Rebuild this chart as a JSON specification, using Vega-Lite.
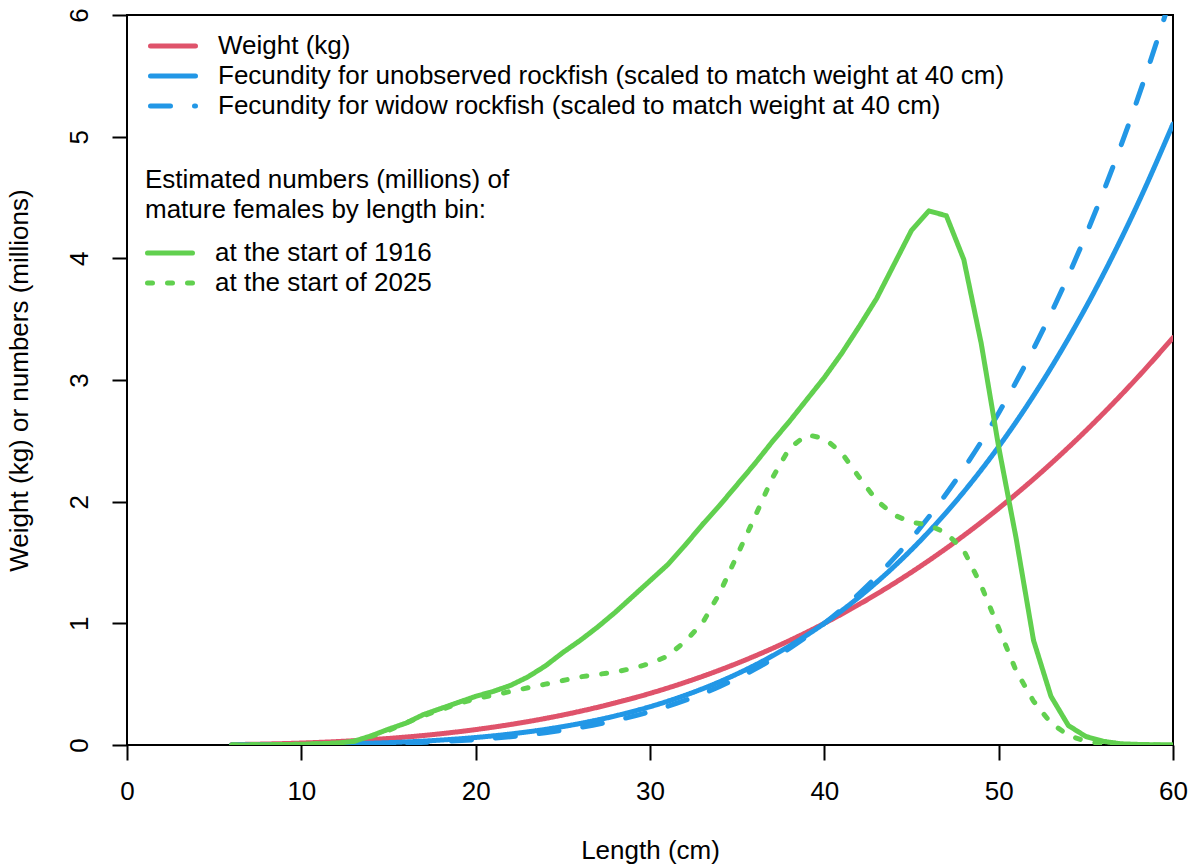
{
  "$schema": "https://vega.github.io/schema/vega-lite/v6.json",
  "width": 1046,
  "height": 730,
  "autosize": {"type": "none"},
  "padding": {"left": 127, "top": 15, "right": 18, "bottom": 120},
  "background": "white",
  "config": {
    "font": "Liberation Sans",
    "view": {"stroke": "black", "strokeWidth": 2},
    "axis": {"grid": false, "domain": false, "tickColor": "black", "tickWidth": 2, "tickSize": 15, "labelFontSize": 26, "labelColor": "black", "titleFontSize": 26, "titleFontWeight": "normal", "titleColor": "black", "labelFont": "Liberation Sans", "titleFont": "Liberation Sans"},
    "legend": {"labelFont": "Liberation Sans", "titleFont": "Liberation Sans", "labelColor": "black", "titleColor": "black"}
  },
  "datasets": {
    "curves": [
      {"L":6,"v":0.0035,"s":"W"},{"L":8,"v":0.0083,"s":"W"},{"L":10,"v":0.0161,"s":"W"},{"L":12,"v":0.0277,"s":"W"},{"L":14,"v":0.0438,"s":"W"},{"L":16,"v":0.0652,"s":"W"},{"L":18,"v":0.0926,"s":"W"},{"L":20,"v":0.1268,"s":"W"},{"L":22,"v":0.1684,"s":"W"},{"L":24,"v":0.2183,"s":"W"},{"L":26,"v":0.277,"s":"W"},{"L":28,"v":0.3455,"s":"W"},{"L":30,"v":0.4243,"s":"W"},{"L":32,"v":0.5143,"s":"W"},{"L":34,"v":0.6161,"s":"W"},{"L":36,"v":0.7305,"s":"W"},{"L":38,"v":0.8583,"s":"W"},{"L":40,"v":1.0,"s":"W"},{"L":42,"v":1.1565,"s":"W"},{"L":44,"v":1.3285,"s":"W"},{"L":46,"v":1.5166,"s":"W"},{"L":48,"v":1.7217,"s":"W"},{"L":50,"v":1.9445,"s":"W"},{"L":52,"v":2.1853,"s":"W"},{"L":54,"v":2.4456,"s":"W"},{"L":56,"v":2.7256,"s":"W"},{"L":58,"v":3.0262,"s":"W"},{"L":60,"v":3.3478,"s":"W"},
      {"L":6,"v":0.0005,"s":"F"},{"L":8,"v":0.0016,"s":"F"},{"L":10,"v":0.0038,"s":"F"},{"L":12,"v":0.0079,"s":"F"},{"L":14,"v":0.0147,"s":"F"},{"L":16,"v":0.0251,"s":"F"},{"L":18,"v":0.0404,"s":"F"},{"L":20,"v":0.0616,"s":"F"},{"L":22,"v":0.0904,"s":"F"},{"L":24,"v":0.1283,"s":"F"},{"L":26,"v":0.177,"s":"F"},{"L":28,"v":0.2384,"s":"F"},{"L":30,"v":0.3146,"s":"F"},{"L":32,"v":0.4078,"s":"F"},{"L":34,"v":0.5203,"s":"F"},{"L":36,"v":0.6548,"s":"F"},{"L":38,"v":0.8137,"s":"F"},{"L":40,"v":1.0,"s":"F"},{"L":42,"v":1.2167,"s":"F"},{"L":44,"v":1.4669,"s":"F"},{"L":46,"v":1.7538,"s":"F"},{"L":48,"v":2.0811,"s":"F"},{"L":50,"v":2.4523,"s":"F"},{"L":52,"v":2.8711,"s":"F"},{"L":54,"v":3.3414,"s":"F"},{"L":56,"v":3.8674,"s":"F"},{"L":58,"v":4.4536,"s":"F"},{"L":60,"v":5.1039,"s":"F"},
      {"L":6,"v":0.0002,"s":"WF"},{"L":8,"v":0.0007,"s":"WF"},{"L":10,"v":0.002,"s":"WF"},{"L":12,"v":0.0044,"s":"WF"},{"L":14,"v":0.0089,"s":"WF"},{"L":16,"v":0.0162,"s":"WF"},{"L":18,"v":0.0275,"s":"WF"},{"L":20,"v":0.0442,"s":"WF"},{"L":22,"v":0.0679,"s":"WF"},{"L":24,"v":0.1004,"s":"WF"},{"L":26,"v":0.1439,"s":"WF"},{"L":28,"v":0.2009,"s":"WF"},{"L":30,"v":0.274,"s":"WF"},{"L":32,"v":0.3664,"s":"WF"},{"L":34,"v":0.4813,"s":"WF"},{"L":36,"v":0.6224,"s":"WF"},{"L":38,"v":0.7939,"s":"WF"},{"L":40,"v":1.0,"s":"WF"},{"L":42,"v":1.2455,"s":"WF"},{"L":44,"v":1.5355,"s":"WF"},{"L":46,"v":1.8755,"s":"WF"},{"L":48,"v":2.2715,"s":"WF"},{"L":50,"v":2.7295,"s":"WF"},{"L":52,"v":3.2563,"s":"WF"},{"L":54,"v":3.8591,"s":"WF"},{"L":56,"v":4.5454,"s":"WF"},{"L":58,"v":5.3226,"s":"WF"},{"L":60,"v":6.2004,"s":"WF"}
    ],
    "numbers": [
      {"L":6,"v":0,"s":"N1916"},{"L":7,"v":0.001,"s":"N1916"},{"L":8,"v":0.002,"s":"N1916"},{"L":9,"v":0.004,"s":"N1916"},{"L":10,"v":0.006,"s":"N1916"},{"L":11,"v":0.01,"s":"N1916"},{"L":12,"v":0.015,"s":"N1916"},{"L":13,"v":0.03,"s":"N1916"},{"L":14,"v":0.075,"s":"N1916"},{"L":15,"v":0.13,"s":"N1916"},{"L":16,"v":0.18,"s":"N1916"},{"L":17,"v":0.25,"s":"N1916"},{"L":18,"v":0.3,"s":"N1916"},{"L":19,"v":0.35,"s":"N1916"},{"L":20,"v":0.4,"s":"N1916"},{"L":21,"v":0.44,"s":"N1916"},{"L":22,"v":0.49,"s":"N1916"},{"L":23,"v":0.56,"s":"N1916"},{"L":24,"v":0.65,"s":"N1916"},{"L":25,"v":0.76,"s":"N1916"},{"L":26,"v":0.86,"s":"N1916"},{"L":27,"v":0.97,"s":"N1916"},{"L":28,"v":1.09,"s":"N1916"},{"L":29,"v":1.22,"s":"N1916"},{"L":30,"v":1.35,"s":"N1916"},{"L":31,"v":1.48,"s":"N1916"},{"L":32,"v":1.64,"s":"N1916"},{"L":33,"v":1.81,"s":"N1916"},{"L":34,"v":1.97,"s":"N1916"},{"L":35,"v":2.14,"s":"N1916"},{"L":36,"v":2.31,"s":"N1916"},{"L":37,"v":2.49,"s":"N1916"},{"L":38,"v":2.66,"s":"N1916"},{"L":39,"v":2.84,"s":"N1916"},{"L":40,"v":3.02,"s":"N1916"},{"L":41,"v":3.22,"s":"N1916"},{"L":42,"v":3.44,"s":"N1916"},{"L":43,"v":3.67,"s":"N1916"},{"L":44,"v":3.95,"s":"N1916"},{"L":45,"v":4.23,"s":"N1916"},{"L":46,"v":4.39,"s":"N1916"},{"L":47,"v":4.35,"s":"N1916"},{"L":48,"v":3.99,"s":"N1916"},{"L":49,"v":3.3,"s":"N1916"},{"L":50,"v":2.45,"s":"N1916"},{"L":51,"v":1.7,"s":"N1916"},{"L":52,"v":0.86,"s":"N1916"},{"L":53,"v":0.4,"s":"N1916"},{"L":54,"v":0.16,"s":"N1916"},{"L":55,"v":0.07,"s":"N1916"},{"L":56,"v":0.03,"s":"N1916"},{"L":57,"v":0.01,"s":"N1916"},{"L":58,"v":0.005,"s":"N1916"},{"L":59,"v":0.002,"s":"N1916"},{"L":60,"v":0.001,"s":"N1916"},
      {"L":6,"v":0,"s":"N2025"},{"L":7,"v":0.001,"s":"N2025"},{"L":8,"v":0.002,"s":"N2025"},{"L":9,"v":0.004,"s":"N2025"},{"L":10,"v":0.006,"s":"N2025"},{"L":11,"v":0.01,"s":"N2025"},{"L":12,"v":0.015,"s":"N2025"},{"L":13,"v":0.03,"s":"N2025"},{"L":14,"v":0.07,"s":"N2025"},{"L":15,"v":0.12,"s":"N2025"},{"L":16,"v":0.18,"s":"N2025"},{"L":17,"v":0.24,"s":"N2025"},{"L":18,"v":0.29,"s":"N2025"},{"L":19,"v":0.34,"s":"N2025"},{"L":20,"v":0.38,"s":"N2025"},{"L":21,"v":0.41,"s":"N2025"},{"L":22,"v":0.44,"s":"N2025"},{"L":23,"v":0.47,"s":"N2025"},{"L":24,"v":0.5,"s":"N2025"},{"L":25,"v":0.53,"s":"N2025"},{"L":26,"v":0.56,"s":"N2025"},{"L":27,"v":0.58,"s":"N2025"},{"L":28,"v":0.6,"s":"N2025"},{"L":29,"v":0.63,"s":"N2025"},{"L":30,"v":0.67,"s":"N2025"},{"L":31,"v":0.73,"s":"N2025"},{"L":32,"v":0.85,"s":"N2025"},{"L":33,"v":1.0,"s":"N2025"},{"L":34,"v":1.25,"s":"N2025"},{"L":35,"v":1.56,"s":"N2025"},{"L":36,"v":1.87,"s":"N2025"},{"L":37,"v":2.19,"s":"N2025"},{"L":38,"v":2.44,"s":"N2025"},{"L":39,"v":2.55,"s":"N2025"},{"L":40,"v":2.52,"s":"N2025"},{"L":41,"v":2.4,"s":"N2025"},{"L":42,"v":2.2,"s":"N2025"},{"L":43,"v":2.01,"s":"N2025"},{"L":44,"v":1.89,"s":"N2025"},{"L":45,"v":1.83,"s":"N2025"},{"L":46,"v":1.81,"s":"N2025"},{"L":47,"v":1.74,"s":"N2025"},{"L":48,"v":1.6,"s":"N2025"},{"L":49,"v":1.31,"s":"N2025"},{"L":50,"v":0.96,"s":"N2025"},{"L":51,"v":0.61,"s":"N2025"},{"L":52,"v":0.36,"s":"N2025"},{"L":53,"v":0.18,"s":"N2025"},{"L":54,"v":0.08,"s":"N2025"},{"L":55,"v":0.03,"s":"N2025"},{"L":56,"v":0.01,"s":"N2025"},{"L":57,"v":0.005,"s":"N2025"},{"L":58,"v":0.002,"s":"N2025"},{"L":59,"v":0.001,"s":"N2025"},{"L":60,"v":0,"s":"N2025"}
    ]
  },
  "encoding": {
    "x": {"field": "L", "type": "quantitative", "scale": {"domain": [0, 60], "nice": false, "zero": false},
      "axis": {"values": [0, 10, 20, 30, 40, 50, 60], "title": "Length (cm)", "labelPadding": 18, "titlePadding": 33, "labelFlush": false}},
    "y": {"field": "v", "type": "quantitative", "scale": {"domain": [0, 6], "nice": false, "zero": false},
      "axis": {"values": [0, 1, 2, 3, 4, 5, 6], "title": "Weight (kg) or numbers (millions)", "labelAngle": -90, "labelPadding": 20, "titlePadding": 34, "labelFlush": false}}
  },
  "layer": [
    {
      "data": {"name": "curves"},
      "encoding": {
        "color": {"field": "s", "type": "nominal", "sort": null,
          "scale": {"domain": ["W", "F", "WF"], "range": ["#DF536B", "#2297E6", "#2297E6"]},
          "legend": {"title": null, "orient": "none", "legendX": 21, "legendY": 16, "padding": 0, "symbolType": "stroke", "symbolStrokeWidth": 5, "symbolSize": 2025, "labelFontSize": 26, "labelLimit": 1200, "labelOffset": 20, "rowPadding": 0, "clipHeight": 30,
            "labelExpr": "datum.value == 'W' ? 'Weight (kg)' : datum.value == 'F' ? 'Fecundity for unobserved rockfish (scaled to match weight at 40 cm)' : 'Fecundity for widow rockfish (scaled to match weight at 40 cm)'",
            "encode": {"symbols": {"update": {"strokeCap": {"value": "round"}}}}}},
        "strokeDash": {"field": "s", "type": "nominal", "sort": null,
          "scale": {"domain": ["W", "F", "WF"], "range": [[1, 0], [1, 0], [20, 24]]},
          "legend": {"title": null, "orient": "none", "legendX": 21, "legendY": 16, "padding": 0, "symbolType": "stroke", "symbolStrokeWidth": 5, "symbolSize": 2025, "labelFontSize": 26, "labelLimit": 1200, "labelOffset": 20, "rowPadding": 0, "clipHeight": 30,
            "labelExpr": "datum.value == 'W' ? 'Weight (kg)' : datum.value == 'F' ? 'Fecundity for unobserved rockfish (scaled to match weight at 40 cm)' : 'Fecundity for widow rockfish (scaled to match weight at 40 cm)'",
            "encode": {"symbols": {"update": {"strokeCap": {"value": "round"}}}}}}
      },
      "layer": [
        {"transform": [{"filter": "datum.s == 'W'"}], "mark": {"type": "line", "strokeWidth": 5, "strokeCap": "round", "strokeJoin": "round", "interpolate": "monotone", "clip": true}},
        {"transform": [{"filter": "datum.s == 'F'"}], "mark": {"type": "line", "strokeWidth": 5, "strokeCap": "round", "strokeJoin": "round", "interpolate": "monotone", "clip": true}},
        {"transform": [{"filter": "datum.s == 'WF'"}], "mark": {"type": "line", "strokeWidth": 5, "strokeCap": "round", "strokeJoin": "round", "interpolate": "monotone", "clip": true}}
      ]
    },
    {
      "data": {"name": "numbers"},
      "encoding": {
        "color": {"field": "s", "type": "nominal", "sort": null,
          "scale": {"domain": ["N1916", "N2025"], "range": ["#61D04F", "#61D04F"]},
          "legend": {"title": ["Estimated numbers (millions) of", "mature females by length bin:"], "orient": "none", "legendX": 18, "legendY": 152, "padding": 0, "titleFontSize": 26, "titleFontWeight": "normal", "titleLineHeight": 30, "titlePadding": 15, "titleLimit": 1200, "symbolType": "stroke", "symbolStrokeWidth": 5, "symbolSize": 2025, "labelFontSize": 26, "labelLimit": 1200, "labelOffset": 20, "rowPadding": 0, "clipHeight": 30,
            "labelExpr": "datum.value == 'N1916' ? 'at the start of 1916' : 'at the start of 2025'",
            "encode": {"symbols": {"update": {"strokeCap": {"value": "round"}}}}}},
        "strokeDash": {"field": "s", "type": "nominal", "sort": null,
          "scale": {"domain": ["N1916", "N2025"], "range": [[1, 0], [5, 15]]},
          "legend": {"title": ["Estimated numbers (millions) of", "mature females by length bin:"], "orient": "none", "legendX": 18, "legendY": 152, "padding": 0, "titleFontSize": 26, "titleFontWeight": "normal", "titleLineHeight": 30, "titlePadding": 15, "titleLimit": 1200, "symbolType": "stroke", "symbolStrokeWidth": 5, "symbolSize": 2025, "labelFontSize": 26, "labelLimit": 1200, "labelOffset": 20, "rowPadding": 0, "clipHeight": 30,
            "labelExpr": "datum.value == 'N1916' ? 'at the start of 1916' : 'at the start of 2025'",
            "encode": {"symbols": {"update": {"strokeCap": {"value": "round"}}}}}}
      },
      "layer": [
        {"transform": [{"filter": "datum.s == 'N1916'"}], "mark": {"type": "line", "strokeWidth": 5, "strokeCap": "round", "strokeJoin": "round", "clip": true}},
        {"transform": [{"filter": "datum.s == 'N2025'"}], "mark": {"type": "line", "strokeWidth": 5, "strokeCap": "round", "strokeJoin": "round", "clip": true}}
      ]
    }
  ],
  "resolve": {"scale": {"color": "independent", "strokeDash": "independent"}}
}
